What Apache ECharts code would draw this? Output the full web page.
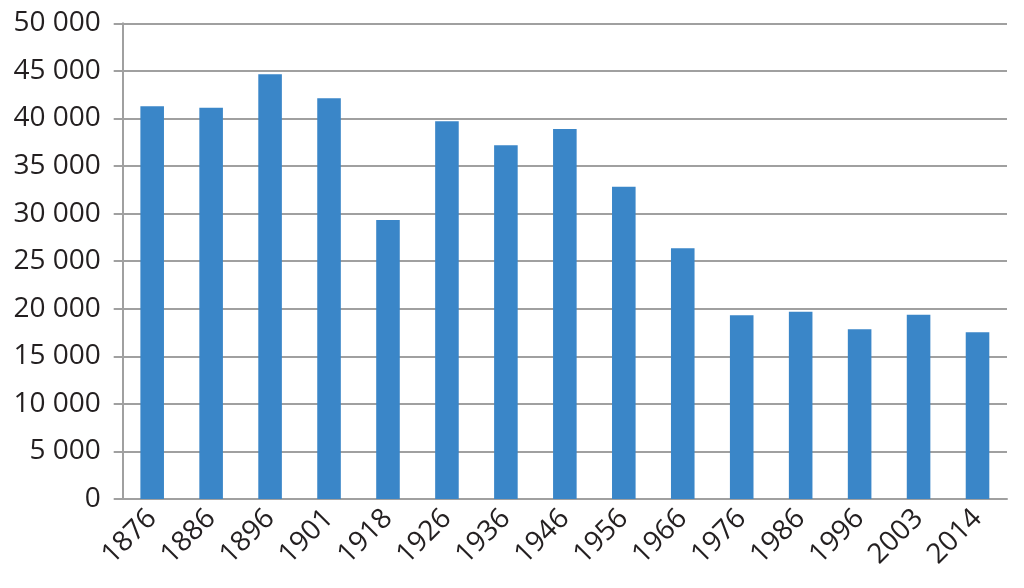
<!DOCTYPE html>
<html>
<head>
<meta charset="utf-8">
<script src="https://cdn.jsdelivr.net/npm/echarts@6/dist/echarts.min.js"></script>
<style>html,body{margin:0;padding:0;background:#fff;}#c{width:1024px;height:588px;}</style>
</head>
<body>
<div id="c"></div>
<script>
var categories = ['1876','1886','1896','1901','1918','1926','1936','1946','1956','1966','1976','1986','1996','2003','2014'];
var values = [41270, 41130, 44640, 42120, 29330, 39700, 37180, 38890, 32830, 26350, 19310, 19690, 17830, 19370, 17520];
var chart = echarts.init(document.getElementById('c'), null, {renderer:'canvas'});
var font = '"Open Sans", "Noto Sans", sans-serif';
chart.setOption({
  animation: false,
  grid: {left: 122.7, right: 17, top: 23.3, bottom: 89, containLabel: false},
  xAxis: {
    type: 'category',
    data: categories,
    axisLine: {lineStyle: {color: '#a0a0a0', width: 2}},
    axisTick: {show: false},
    axisLabel: {rotate: 45, margin: 15, fontSize: 28, color: '#231f20', fontFamily: font, interval: 0}
  },
  yAxis: {
    type: 'value',
    min: 0, max: 50000, interval: 5000,
    axisLine: {show: true, lineStyle: {color: '#a0a0a0', width: 2}},
    axisTick: {show: true, length: 9, lineStyle: {color: '#a0a0a0', width: 2}},
    splitLine: {lineStyle: {color: '#a0a0a0', width: 2}},
    axisLabel: {
      margin: 22, fontSize: 28, color: '#231f20', fontFamily: font,
      formatter: function (v) { return v === 0 ? '0' : String(v).replace(/\B(?=(\d{3})+(?!\d))/g, ' '); }
    }
  },
  series: [{
    type: 'bar',
    data: values,
    barWidth: '40%',
    itemStyle: {color: '#3a86c8'}
  }]
});
</script>
</body>
</html>
